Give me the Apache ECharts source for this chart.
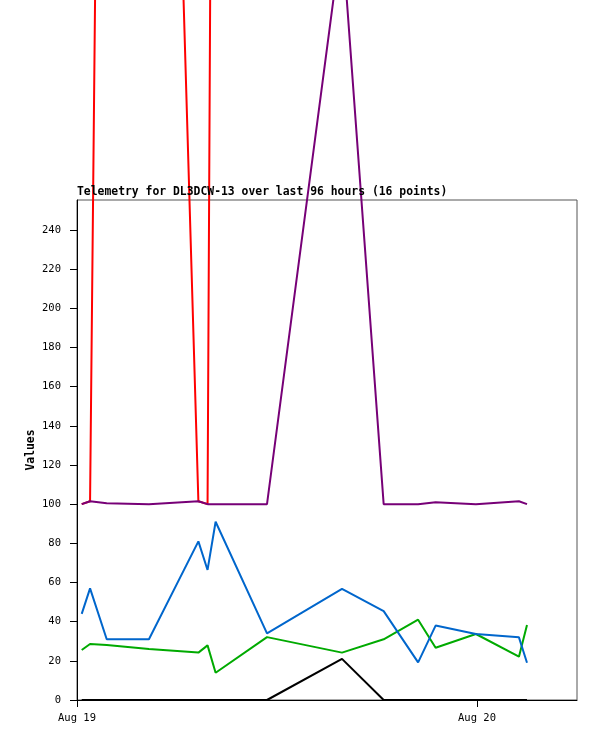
<!DOCTYPE html>
<html>
<head>
<meta charset="utf-8">
<script src="https://cdn.jsdelivr.net/npm/echarts@6/dist/echarts.min.js"></script>
<style>
  html, body { margin: 0; padding: 0; background: #fff; }
  #chart { width: 597px; height: 741px; }
</style>
</head>
<body>
<div id="chart"></div>
<script>
// Sample times (UTC)
const times = [
  '2024-08-19T00:17:00Z', '2024-08-19T00:47:00Z', '2024-08-19T01:47:00Z', '2024-08-19T04:19:00Z',
  '2024-08-19T07:17:00Z', '2024-08-19T07:50:00Z', '2024-08-19T08:19:00Z', '2024-08-19T11:24:00Z',
  '2024-08-19T15:54:00Z', '2024-08-19T18:24:00Z', '2024-08-19T20:28:00Z', '2024-08-19T21:31:00Z',
  '2024-08-19T23:56:00Z', '2024-08-20T02:31:00Z', '2024-08-20T03:00:00Z'
];
const redValues    = [100, 101.5, 955, 955, 101.5, 100, 900, 955, 955, 955, 955, 955, 955, 955, 955];
const blueValues   = [44, 57, 31, 31, 81, 66.4, 91, 34, 56.7, 45.4, 19.2, 38, 33.7, 32, 19];
const greenValues  = [25.5, 28.6, 28.1, 26, 24.2, 27.9, 13.9, 32.1, 24.2, 31, 41, 26.7, 33.7, 22.1, 38.3];
const purpleValues = [100, 101.5, 100.5, 100, 101.5, 100, 100, 100, 391, 100, 100, 101, 100, 101.5, 100];
const blackValues  = [0, 0, 0, 0, 0, 0, 0, 0, 21, 0, 0, 0, 0, 0, 0];
const yTicks = [0, 20, 40, 60, 80, 100, 120, 140, 160, 180, 200, 220, 240];
const xTickTimes = ['2024-08-19T00:00:00Z', '2024-08-20T00:00:00Z'];
const xTickLabels = ['Aug 19', 'Aug 20'];
const xMin = '2024-08-19T00:00:00Z';
const xMax = '2024-08-20T06:00:00Z';
const yMax = 255.3;

const ts = times.map(t => Date.parse(t));
const xTicks = xTickTimes.map(t => Date.parse(t));
function pairs(vals) { return vals.map((v, i) => [ts[i], v]); }

const mono = 'DejaVu Sans Mono';
function line(name, vals, color) {
  return {
    name: name, type: 'line', data: pairs(vals), showSymbol: false, clip: false,
    lineStyle: { color: color, width: 2 }, itemStyle: { color: color }
  };
}

const chart = echarts.init(document.getElementById('chart'));
chart.setOption({
  animation: false,
  title: {
    text: 'Telemetry for DL3DCW-13 over last 96 hours (16 points)',
    left: 77, top: 187, padding: 0,
    textStyle: { fontFamily: mono, fontSize: 11.4, fontWeight: 'bold', color: '#000' }
  },
  grid: { left: 77, right: 20, top: 200, bottom: 41, show: true, borderColor: '#555', borderWidth: 1, backgroundColor: 'transparent' },
  xAxis: {
    type: 'value', min: Date.parse(xMin), max: Date.parse(xMax), scale: true,
    axisLine: { show: true, lineStyle: { color: '#000', width: 1 } },
    axisTick: { show: true, length: 7, customValues: xTicks, lineStyle: { color: '#000' } },
    axisLabel: {
      customValues: xTicks, margin: 13, color: '#000', fontFamily: mono, fontSize: 10.5,
      formatter: function (v) { const i = xTicks.indexOf(v); return i >= 0 ? xTickLabels[i] : ''; }
    },
    splitLine: { show: false }
  },
  yAxis: {
    type: 'value', min: 0, max: yMax,
    name: 'Values', nameLocation: 'middle', nameGap: 40, nameRotate: 90, nameMoveOverlap: false,
    nameTextStyle: { fontFamily: mono, fontSize: 11.4, fontWeight: 'bold', color: '#000' },
    axisLine: { show: true, lineStyle: { color: '#000', width: 1 } },
    axisTick: { show: true, length: 7, customValues: yTicks, lineStyle: { color: '#000' } },
    axisLabel: { customValues: yTicks, margin: 16, color: '#000', fontFamily: mono, fontSize: 10.5 },
    splitLine: { show: false }
  },
  series: [
    line('red', redValues, '#ff0000'),
    line('green', greenValues, '#00aa00'),
    line('blue', blueValues, '#0066cc'),
    line('purple', purpleValues, '#770077'),
    line('black', blackValues, '#000000')
  ]
});
</script>
</body>
</html>
